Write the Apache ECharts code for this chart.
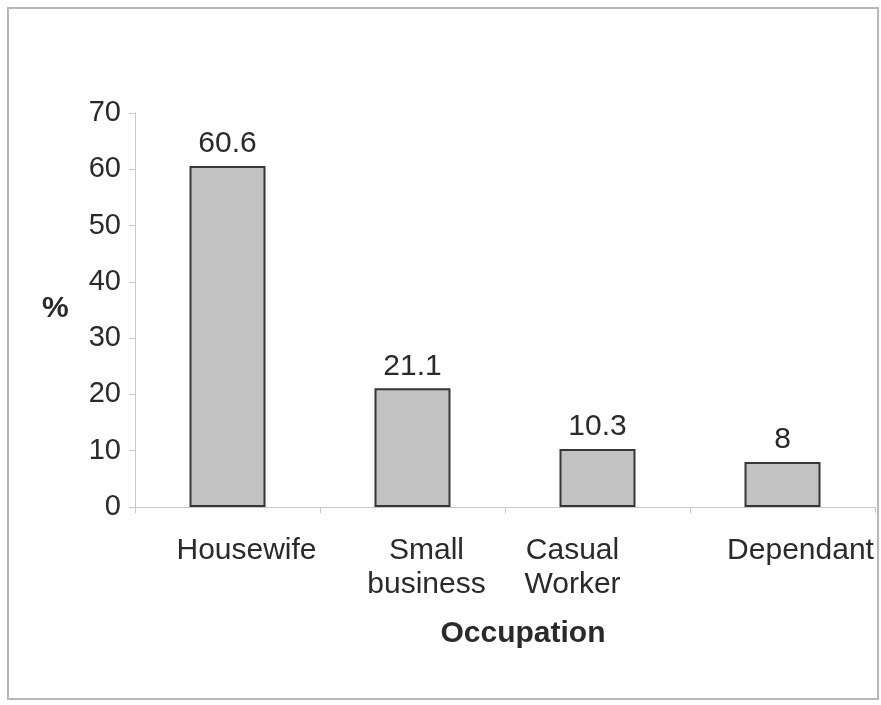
<!DOCTYPE html>
<html>
<head>
<meta charset="utf-8">
<script src="https://cdn.jsdelivr.net/npm/echarts@6/dist/echarts.min.js"></script>
<style>
html, body { margin: 0; padding: 0; background: #fff; }
#chart { width: 881px; height: 705px; }
</style>
</head>
<body>
<div id="chart"></div>
<script>
var categories = ['Housewife', 'Small\nbusiness', 'Casual\nWorker', 'Dependant'];
var percents = [60.6, 21.1, 10.3, 8];
var yTicks = [0, 10, 20, 30, 40, 50, 60, 70];

// category labels sit a little off the bar centres in the original
var labelShift = [19, 14, -25, 18];

var richStyles = {};
labelShift.forEach(function (dx, i) {
    richStyles['c' + i] = {
        fontSize: 30,
        color: '#2a2a2a',
        lineHeight: 34,
        padding: dx >= 0 ? [0, 0, 0, dx * 2] : [0, -dx * 2, 0, 0]
    };
});

var chart = echarts.init(document.getElementById('chart'));

var option = {
    backgroundColor: '#ffffff',
    animation: false,
    textStyle: { fontFamily: 'Liberation Sans, Arial, sans-serif' },
    graphic: [{
        type: 'rect',
        shape: { x: 8, y: 8, width: 870, height: 691 },
        style: { fill: 'none', stroke: '#b8b8b8', lineWidth: 2 }
    }, {
        type: 'text',
        left: 42, top: 294,
        style: { text: '%', font: 'bold 30px Liberation Sans', fill: '#2a2a2a' }
    }],
    grid: { left: 135, right: 6, top: 113, bottom: 198 },
    xAxis: {
        type: 'category',
        data: categories,
        name: 'Occupation',
        nameLocation: 'middle',
        nameGap: 112,
        nameTextStyle: { fontSize: 30, fontWeight: 'bold', color: '#2a2a2a', padding: [0, 0, 0, 36] },
        axisLine: { lineStyle: { color: '#c8c8c8', width: 1 } },
        axisTick: { show: true, length: 6, lineStyle: { color: '#c8c8c8' } },
        axisLabel: {
            interval: 0,
            margin: 27,
            rich: richStyles,
            formatter: function (v, i) {
                return v.split('\n').map(function (s) { return '{c' + i + '|' + s + '}'; }).join('\n');
            }
        }
    },
    yAxis: {
        type: 'value',
        min: 0,
        max: 70,
        interval: 10,
        axisLine: { show: true, lineStyle: { color: '#c8c8c8', width: 1 } },
        axisTick: { show: true, length: 6, lineStyle: { color: '#c8c8c8' } },
        splitLine: { show: false },
        axisLabel: {
            fontSize: 29, color: '#2a2a2a', margin: 14,
            formatter: function (v) { return yTicks.indexOf(v) >= 0 ? String(v) : ''; }
        }
    },
    series: [{
        type: 'bar',
        data: percents,
        barWidth: 76,
        itemStyle: { color: '#c2c2c2', borderColor: '#363636', borderWidth: 2 },
        label: {
            show: true,
            position: 'top',
            distance: 7,
            fontSize: 30,
            color: '#2a2a2a'
        }
    }]
};

chart.setOption(option);
</script>
</body>
</html>
